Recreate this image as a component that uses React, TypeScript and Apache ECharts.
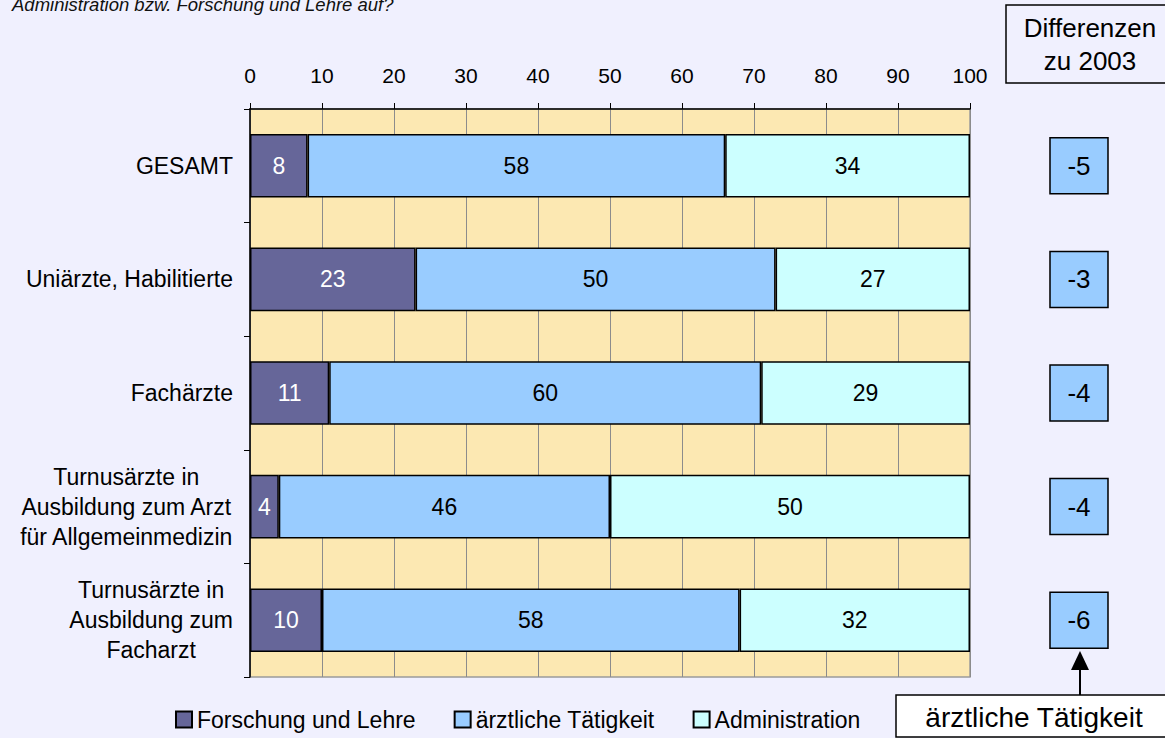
import React, { useEffect, useRef } from "react";
import * as echarts from "echarts";

const categories = [
  "GESAMT",
  "Uniärzte, Habilitierte",
  "Fachärzte",
  "Turnusärzte in\nAusbildung zum Arzt\nfür Allgemeinmedizin",
  "Turnusärzte in\nAusbildung zum\nFacharzt",
];
const seriesNames = ["Forschung und Lehre", "ärztliche Tätigkeit", "Administration"];
const forschung = [8, 23, 11, 4, 10];
const aerztlich = [58, 50, 60, 46, 58];
const administration = [34, 27, 29, 50, 32];
const differenzen = [-5, -3, -4, -4, -6];
const xTicks = [0, 10, 20, 30, 40, 50, 60, 70, 80, 90, 100];

const FONT = "'Liberation Sans', Arial, sans-serif";
const colors = ["#666699", "#99CCFF", "#CCFFFF"];
const BG = "#F0F0FE";

export default function App() {
  const ref = useRef<HTMLDivElement>(null);
  useEffect(() => {
    if (!ref.current) return;
    const chart = echarts.init(ref.current, null, { renderer: "svg" });
    const values = [forschung, aerztlich, administration];
    const barSeries = seriesNames.map((name, i) => ({
      name,
      type: "bar",
      stack: "total",
      barWidth: "56%",
      data: values[i],
      itemStyle: { color: colors[i], borderColor: "#000", borderWidth: 1.5 },
      label: {
        show: true,
        position: "inside",
        fontSize: 23,
        fontFamily: FONT,
        color: i === 0 ? "#fff" : "#000",
      },
    }));
    chart.setOption({
      animation: false,
      backgroundColor: BG,
      textStyle: { fontFamily: FONT },
      grid: [
        {
          left: 250,
          top: 109,
          width: 720,
          height: 568,
          show: true,
          backgroundColor: "#FCE8B2",
          borderColor: "#9a9a9a",
          borderWidth: 1.5,
        },
        { left: 1049, top: 109, width: 60, height: 568 },
      ],
      xAxis: [
        {
          type: "value",
          position: "top",
          min: xTicks[0],
          max: xTicks[xTicks.length - 1],
          interval: xTicks[1] - xTicks[0],
          gridIndex: 0,
          axisLine: { show: true, lineStyle: { color: "#000", width: 1.5 } },
          axisTick: { show: true, length: 6, lineStyle: { color: "#000" } },
          axisLabel: { fontSize: 21, color: "#000", margin: 23, fontFamily: FONT },
          splitLine: { show: true, lineStyle: { color: "#8c8c8c", width: 1 } },
        },
        { type: "value", gridIndex: 1, min: 0, max: 1, show: false },
      ],
      yAxis: [
        {
          type: "category",
          data: categories,
          inverse: true,
          gridIndex: 0,
          axisLine: { show: true, lineStyle: { color: "#000", width: 1.5 } },
          axisTick: { show: true, length: 6, lineStyle: { color: "#000" } },
          axisLabel: {
            margin: 17,
            formatter: (v: string) =>
              v
                .split("\n")
                .map((l) => `{c|${l}}`)
                .join("\n"),
            rich: {
              c: {
                align: "center",
                fontSize: 23,
                lineHeight: 30,
                color: "#000",
                fontFamily: FONT,
              },
            },
          },
          splitLine: { show: false },
        },
        { type: "category", data: categories, inverse: true, gridIndex: 1, show: false },
      ],
      legend: {
        data: seriesNames,
        left: 170,
        top: 703,
        itemWidth: 16,
        itemHeight: 16,
        itemGap: 38,
        icon: "rect",
        textStyle: { fontSize: 23, color: "#000", fontFamily: FONT },
      },
      series: [
        ...barSeries,
        {
          name: "Differenzen",
          type: "scatter",
          xAxisIndex: 1,
          yAxisIndex: 1,
          symbol: "rect",
          symbolSize: [58, 56],
          data: differenzen.map((d, i) => [0.5, categories[i], d]),
          itemStyle: { color: "#99CCFF", borderColor: "#000", borderWidth: 1.5, opacity: 1 },
          label: {
            show: true,
            position: "inside",
            formatter: (p: any) => String(p.value[2]),
            fontSize: 26,
            color: "#000",
            fontFamily: FONT,
          },
        },
      ],
      graphic: [
        {
          type: "text",
          left: 12,
          top: -5,
          style: {
            text: "Administration bzw. Forschung und Lehre auf?",
            fontSize: 18.5,
            fontStyle: "italic",
            fontFamily: FONT,
            fill: "#111",
          },
        },
        {
          type: "rect",
          shape: { x: 1006, y: 5, width: 170, height: 78 },
          style: { fill: BG, stroke: "#000", lineWidth: 1.5 },
        },
        {
          type: "text",
          x: 1090,
          y: 44,
          style: {
            text: "Differenzen\nzu 2003",
            fontSize: 26,
            lineHeight: 33,
            fontFamily: FONT,
            fill: "#000",
            align: "center",
            verticalAlign: "middle",
          },
        },
        {
          type: "line",
          shape: { x1: 1080, y1: 695, x2: 1080, y2: 666 },
          style: { stroke: "#000", lineWidth: 2 },
        },
        {
          type: "polygon",
          shape: { points: [[1071, 670], [1089, 670], [1080, 651]] },
          style: { fill: "#000" },
        },
        {
          type: "rect",
          shape: { x: 896, y: 695, width: 280, height: 42 },
          style: { fill: "#fff", stroke: "#000", lineWidth: 1.5 },
        },
        {
          type: "text",
          x: 1034,
          y: 717,
          style: {
            text: "ärztliche Tätigkeit",
            fontSize: 28,
            fontFamily: FONT,
            fill: "#000",
            align: "center",
            verticalAlign: "middle",
          },
        },
      ],
    });
    return () => chart.dispose();
  }, []);
  return (
    <div
      ref={ref}
      style={{ position: "fixed", left: 0, top: 0, width: 1165, height: 738 }}
    />
  );
}
